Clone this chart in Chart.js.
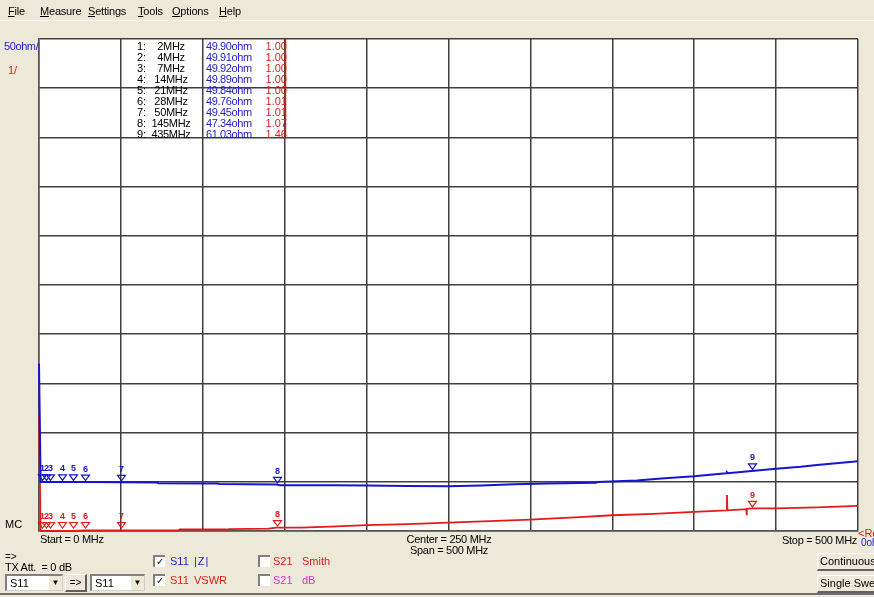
<!DOCTYPE html>
<html>
<head>
<meta charset="utf-8">
<script src="https://cdn.jsdelivr.net/npm/chart.js@4.4.0/dist/chart.umd.min.js"></script>
<style>
  body { margin: 0; background: #ece9d8; font-family: "Liberation Sans", Arial, sans-serif; font-size: 11px; }
  #wrap { position: relative; width: 874px; height: 597px; overflow: hidden; }
  #chart { position: absolute; left: 0; top: 0; }
  .t { position: absolute; white-space: nowrap; line-height: 12px; }
  .blue { color: #2222cc; }
  .red { color: #e01b1b; }
  .mag { color: #d633c8; }
  .menu { letter-spacing: -0.2px; }
  .combo { position: absolute; height: 14px; background: #fff; border-top: 2px solid #808080; border-left: 2px solid #808080; border-bottom: 1px solid #d4d0c8; border-right: 1px solid #d4d0c8; }
  .combo span { position: absolute; left: 3px; top: 1px; }
  .combo b { position: absolute; right: 0; top: 0; width: 13px; height: 14px; background: #ece9d8; border-left: 1px solid #fff; font-size: 8px; text-align: center; line-height: 14px; font-weight: normal; }
  .btn { position: absolute; background: #ece9d8; border-top: 1px solid #fff; border-left: 1px solid #fff; border-bottom: 2px solid #606060; border-right: 2px solid #606060; text-align: center; line-height: 15px; white-space: nowrap; overflow: hidden; }
  .cb { position: absolute; width: 10px; height: 10px; background: #fff; border-top: 2px solid #808080; border-left: 2px solid #808080; font-size: 10px; line-height: 10px; text-align: center; }
</style>
</head>
<body>
<div id="wrap">
  <canvas id="chart" width="874" height="597"></canvas>
  <div id="overlay"></div>
</div>
<script>
// |Z| trace (S11), ohms
const impFreqMHz = [0, 1, 2, 4, 7, 14, 21, 28, 50, 72, 73, 109, 110, 145, 147, 180, 200, 225, 250, 270, 290, 310, 330, 340, 341, 365, 380, 400, 419.5, 420, 420.5, 435, 450, 465, 475, 490, 500];
const impOhm = [170, 49.9, 49.90, 49.91, 49.92, 49.89, 49.84, 49.76, 49.45, 49.3, 48.6, 48.3, 47.8, 47.34, 46.6, 46.5, 46.3, 45.8, 45.6, 46.2, 47.4, 48.3, 48.9, 49.1, 49.8, 51.4, 53.3, 55.6, 58.6, 59.6, 58.7, 61.03, 63.3, 65.2, 67.0, 69.4, 70.8];

// VSWR trace (S11)
const vswrFreqMHz = [0, 1, 2, 4, 7, 14, 21, 28, 50, 85, 86, 115, 116, 140, 145, 160, 178, 200, 225, 250, 275, 300, 318, 330, 350, 375, 400, 419.7, 420, 420.3, 430, 431.8, 432, 432.2, 435, 450, 475, 500];
const vswrValues = [3.31, 1.00, 1.00, 1.00, 1.00, 1.00, 1.00, 1.01, 1.01, 1.01, 1.03, 1.03, 1.04, 1.05, 1.07, 1.07, 1.09, 1.12, 1.14, 1.17, 1.20, 1.23, 1.26, 1.28, 1.32, 1.35, 1.39, 1.42, 1.73, 1.42, 1.44, 1.44, 1.32, 1.45, 1.46, 1.46, 1.48, 1.51];

// markers
const markerFreqMHz = [2, 4, 7, 14, 21, 28, 50, 145, 435];
const markerOhm = [49.90, 49.91, 49.92, 49.89, 49.84, 49.76, 49.45, 47.34, 61.03];
const markerVswr = [1.00, 1.00, 1.00, 1.00, 1.00, 1.01, 1.01, 1.07, 1.46];

const BLUE = '#1515d0';
const RED = '#e41a1a';

// marker table + window chrome as html text
const ov = document.getElementById('overlay');
function txt(html, x, y, cls, extra) {
  const d = document.createElement('div');
  d.className = 't ' + (cls || '');
  d.style.left = x + 'px';
  d.style.top = (y - 6) + 'px';
  if (extra) Object.assign(d.style, extra);
  d.innerHTML = html;
  ov.appendChild(d);
  return d;
}

// menu
[['<u>F</u>ile', 8], ['<u>M</u>easure', 40], ['<u>S</u>ettings', 88], ['<u>T</u>ools', 138], ['<u>O</u>ptions', 172], ['<u>H</u>elp', 219]]
  .forEach(m => txt(m[0], m[1], 11, 'menu'));

txt('50ohm/', 4, 46, 'blue', { letterSpacing: '-0.4px' });
txt('1/', 8, 70, 'red');
txt('MC', 5, 524);

markerFreqMHz.forEach((f, i) => {
  const y = 46 + i * 11;
  txt((i + 1) + ':', 137, y);
  txt(f + 'MHz', 146, y, '', { width: '50px', textAlign: 'center', letterSpacing: '-0.3px' });
  txt(markerOhm[i].toFixed(2) + 'ohm', 206, y, 'blue', { letterSpacing: '-0.4px' });
  txt(markerVswr[i].toFixed(2), 262, y, 'red', { width: '25px', textAlign: 'right' });
});

txt('Start = 0 MHz', 40, 539, '', { letterSpacing: '-0.3px' });
txt('Center = 250 MHz', 399, 539, '', { width: '100px', textAlign: 'center', letterSpacing: '-0.3px' });
txt('Span = 500 MHz', 399, 550, '', { width: '100px', textAlign: 'center', letterSpacing: '-0.3px' });
txt('Stop = 500 MHz', 757, 540, '', { width: '100px', textAlign: 'right', letterSpacing: '-0.3px' });
txt('&lt;Re', 858, 533, 'red');
txt('0oh', 861, 543, 'blue', { fontSize: '10px' });

txt('=&gt;', 5, 557, '', { fontSize: '10px' });
txt('TX Att.&nbsp; = 0 dB', 5, 567, '', { letterSpacing: '-0.3px' });

function combo(x, w, label) {
  const d = document.createElement('div');
  d.className = 'combo';
  d.style.left = x + 'px'; d.style.top = '574px'; d.style.width = w + 'px';
  d.innerHTML = '<span>' + label + '</span><b>&#9660;</b>';
  ov.appendChild(d);
}
combo(5, 55, 'S11');
combo(90, 52, 'S11');
const arrowBtn = document.createElement('div');
arrowBtn.className = 'btn';
Object.assign(arrowBtn.style, { left: '65px', top: '574px', width: '19px', height: '15px', fontSize: '10px' });
arrowBtn.innerHTML = '=&gt;';
ov.appendChild(arrowBtn);

function check(x, y, on) {
  const d = document.createElement('div');
  d.className = 'cb';
  d.style.left = x + 'px'; d.style.top = (y - 6) + 'px';
  d.innerHTML = on ? '&#10003;' : '';
  ov.appendChild(d);
}
check(153, 561, true);
check(153, 580, true);
check(258, 561, false);
check(258, 580, false);
txt('S11', 170, 561, 'blue');
txt('|Z|', 194, 561, 'blue', { letterSpacing: '1px' });
txt('S11', 170, 580, 'red');
txt('VSWR', 194, 580, 'red');
txt('S21', 273, 561, 'red');
txt('Smith', 302, 561, 'red');
txt('S21', 273, 580, 'mag');
txt('dB', 302, 580, 'mag');

[['Continuous', 553], ['Single Sweep', 575]].forEach(b => {
  const d = document.createElement('div');
  d.className = 'btn';
  Object.assign(d.style, { left: '817px', top: b[1] + 'px', width: '66px', height: '15px', textAlign: 'left', paddingLeft: '2px' });
  d.textContent = b[0];
  ov.appendChild(d);
});
const bottomLine = document.createElement('div');
Object.assign(bottomLine.style, { position: 'absolute', left: '0px', top: '593px', width: '874px', height: '2px', background: '#6e6e6e' });
ov.appendChild(bottomLine);
const menuLine = document.createElement('div');
Object.assign(menuLine.style, { position: 'absolute', left: '0px', top: '20px', width: '874px', height: '1px', background: '#f7f5ee' });
ov.appendChild(menuLine);

// plot background, marker triangles and the red table divider
const analyzerPlugin = {
  id: 'analyzer',
  beforeDraw(chart) {
    const a = chart.chartArea, c = chart.ctx;
    c.save();
    c.fillStyle = '#ffffff';
    c.fillRect(a.left, a.top, a.right - a.left, a.bottom - a.top);
    c.restore();
  },
  afterDatasetsDraw(chart) {
    const c = chart.ctx;
    const xs = chart.scales.x, yo = chart.scales.y, yv = chart.scales.yV;
    c.save();
    c.lineWidth = 1.2;
    c.font = 'bold 9px "Liberation Sans", Arial, sans-serif';
    c.textAlign = 'center';
    c.textBaseline = 'middle';
    function tri(x, y, col, n) {
      c.strokeStyle = col;
      c.fillStyle = col;
      c.beginPath();
      c.moveTo(x - 4, y - 7);
      c.lineTo(x + 4, y - 7);
      c.lineTo(x, y - 1.5);
      c.closePath();
      c.stroke();
      c.fillText(String(n), x, y - 13);
    }
    markerFreqMHz.forEach((f, i) => {
      const x = Math.round(xs.getPixelForValue(f)) + 0.5;
      tri(x, yo.getPixelForValue(markerOhm[i]), BLUE, i + 1);
      tri(x, Math.min(yv.getPixelForValue(markerVswr[i]), yv.bottom - 1.5), RED, i + 1);
    });
    // red divider at the right edge of the marker table
    const xd = Math.round(xs.getPixelForValue(150)) + 0.5;
    c.strokeStyle = RED;
    c.lineWidth = 1.5;
    c.beginPath();
    c.moveTo(xd, yo.getPixelForValue(500));
    c.lineTo(xd, yo.getPixelForValue(400));
    c.stroke();
    c.restore();
  }
};

const gridOpts = { color: '#3f3f3f', lineWidth: 1.5, drawTicks: false };

new Chart(document.getElementById('chart'), {
  type: 'line',
  data: {
    datasets: [
      {
        data: impFreqMHz.map((f, i) => ({ x: f, y: impOhm[i] })),
        borderColor: BLUE,
        borderWidth: 2,
        pointRadius: 0,
        tension: 0,
        yAxisID: 'y',
        clip: 4,
      },
      {
        data: vswrFreqMHz.map((f, i) => ({ x: f, y: vswrValues[i] })),
        borderColor: RED,
        borderWidth: 1.8,
        pointRadius: 0,
        tension: 0,
        yAxisID: 'yV',
        clip: 4,
      },
    ],
  },
  options: {
    responsive: false,
    animation: false,
    layout: { padding: { left: 39, top: 39, right: 16, bottom: 66 } },
    plugins: { legend: { display: false }, tooltip: { enabled: false } },
    scales: {
      x: {
        type: 'linear', min: 0, max: 500,
        ticks: { display: false, stepSize: 50 },
        grid: gridOpts,
        border: { color: '#555555', width: 1.5 },
        afterFit: s => { s.height = 0; },
      },
      y: {
        type: 'linear', min: 0, max: 500,
        ticks: { display: false, stepSize: 50 },
        grid: gridOpts,
        border: { color: '#555555', width: 1.5 },
        afterFit: s => { s.width = 0; },
      },
      yV: {
        type: 'linear', min: 1, max: 11, display: false,
      },
    },
  },
  plugins: [analyzerPlugin],
});
</script>
</body>
</html>
